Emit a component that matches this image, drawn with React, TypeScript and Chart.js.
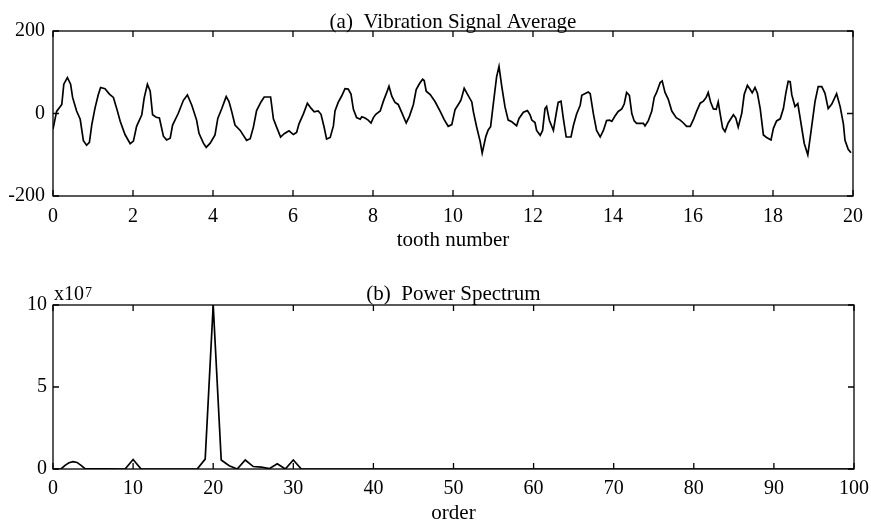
import React, { useEffect, useRef } from "react";
import { Chart, registerables } from "chart.js";

Chart.register(...registerables);

// ---------- (a) Vibration signal average ----------
const toothNumber = [
  0, 0.09, 0.22, 0.27, 0.36, 0.44, 0.49, 0.59, 0.68, 0.76, 0.84, 0.91, 0.97,
  1.05, 1.13, 1.19, 1.3, 1.41, 1.51, 1.59, 1.68, 1.8, 1.93, 2.01, 2.09, 2.22,
  2.28, 2.36, 2.43, 2.49, 2.58, 2.66, 2.76, 2.84, 2.93, 2.99, 3.13, 3.26, 3.36,
  3.47, 3.59, 3.65, 3.76, 3.83, 3.93, 4.05, 4.12, 4.22, 4.33, 4.4, 4.47, 4.55,
  4.68, 4.76, 4.84, 4.93, 5.01, 5.09, 5.2, 5.28, 5.44, 5.51, 5.59, 5.69, 5.78,
  5.9, 6.01, 6.09, 6.15, 6.26, 6.36, 6.45, 6.53, 6.63, 6.7, 6.78, 6.84, 6.93,
  7.01, 7.05, 7.13, 7.22, 7.3, 7.38, 7.45, 7.51, 7.59, 7.68, 7.72, 7.8, 7.88,
  7.95, 8.01, 8.07, 8.18, 8.26, 8.34, 8.4, 8.47, 8.55, 8.63, 8.72, 8.83, 8.91,
  9.01, 9.08, 9.16, 9.24, 9.28, 9.33, 9.43, 9.55, 9.68, 9.78, 9.88, 9.97,
  10.05, 10.16, 10.2, 10.28, 10.37, 10.47, 10.51, 10.59, 10.68, 10.73, 10.82,
  10.88, 10.94, 11.01, 11.09, 11.15, 11.22, 11.3, 11.38, 11.47, 11.59, 11.65,
  11.76, 11.86, 11.93, 11.97, 12.05, 12.09, 12.18, 12.24, 12.3, 12.34, 12.41,
  12.51, 12.58, 12.63, 12.7, 12.76, 12.83, 12.95, 13.01, 13.09, 13.18, 13.22,
  13.38, 13.43, 13.51, 13.59, 13.68, 13.76, 13.84, 13.91, 13.97, 14.05, 14.13,
  14.22, 14.28, 14.34, 14.41, 14.47, 14.53, 14.59, 14.76, 14.8, 14.88, 14.97,
  15.03, 15.09, 15.18, 15.23, 15.3, 15.38, 15.47, 15.58, 15.68, 15.76, 15.84,
  15.93, 16.01, 16.09, 16.18, 16.26, 16.33, 16.38, 16.44, 16.51, 16.58, 16.63,
  16.69, 16.74, 16.8, 16.88, 17.01, 17.07, 17.13, 17.22, 17.28, 17.36, 17.43,
  17.48, 17.55, 17.61, 17.68, 17.76, 17.84, 17.95, 18.01, 18.09, 18.18, 18.26,
  18.32, 18.38, 18.43, 18.47, 18.55, 18.62, 18.68, 18.78, 18.87, 18.95, 19.05,
  19.13, 19.22, 19.3, 19.38, 19.47, 19.59, 19.68, 19.76, 19.8, 19.88, 19.95,
];
const vibration = [
  -38, 5, 22, 71, 87, 71, 39, 6, -14, -66, -77, -70, -27,
  13, 45, 63, 60, 47, 39, 13, -19, -51, -73, -67, -31, -3,
  38, 71, 54, -3, -9, -11, -55, -64, -60, -28, 0, 32, 45,
  20, -16, -48, -72, -82, -72, -52, -12, 12, 41, 29, 4, -28,
  -41, -53, -65, -61, -33, 7, 28, 40, 40, -13, -33, -57, -49,
  -42, -51, -46, -25, -1, 25, 13, 4, 6, -2, -34, -62, -58,
  -30, 6, 27, 43, 60, 59, 47, 10, -10, -14, -8, -11, -16,
  -23, -10, -2, 6, 30, 50, 66, 42, 27, 22, 2, -23, -7,
  22, 58, 72, 83, 80, 54, 46, 29, 5, -15, -31, -27,
  9, 26, 33, 61, 45, 28, 4, -32, -68, -96, -56,
  -40, -32, 25, 89, 114, 65, 16, -16, -20, -30, -12,
  3, 7, -4, -16, -22, -41, -53, -41, 12, 17, -17,
  -41, 0, 27, 30, -13, -57, -57, -29, -1, 20, 44,
  52, 48, -1, -41, -57, -41, -17, -16, -19, -6, 5,
  11, 23, 51, 44, 0, -18, -24, -24, -30, -18, 6,
  39, 51, 75, 79, 51, 35, 6, -10, -16, -23, -31,
  -31, -15, 5, 25, 30, 39, 51, 28, 11, 10, 28,
  -7, -35, -44, -23, -3, -11, -33, 1, 46, 68, 58,
  50, 63, 49, 12, -52, -58, -64, -36, -18, -13, 12,
  49, 78, 77, 45, 17, 24, -12, -72, -100, -44, 29,
  65, 65, 49, 12, 23, 48, 16, -25, -65, -87, -95,
];
const toothTicks = [0, 2, 4, 6, 8, 10, 12, 14, 16, 18, 20];
const vibrationTicks = [-200, 0, 200];

// ---------- (b) Power spectrum (x10^7) ----------
const orders = [
  0, 1, 1.5, 2, 2.5, 3, 3.5, 4, 9, 10, 11, 18, 19, 20, 21, 22, 23, 24, 25, 26,
  27, 28, 29, 30, 31, 100,
];
const power = [
  0, 0, 0.22, 0.38, 0.45, 0.4, 0.22, 0.02, 0, 0.58, 0, 0, 0.6, 10, 0.55, 0.2,
  0, 0.55, 0.15, 0.12, 0.02, 0.32, 0, 0.55, 0, 0,
];
const orderTicks = [0, 10, 20, 30, 40, 50, 60, 70, 80, 90, 100];
const powerTicks = [0, 5, 10];

const FONT = '"Liberation Serif", "Times New Roman", Times, serif';

const framePlugin = {
  id: "frame",
  afterDatasetsDraw(chart: any, _args: any, opts: any) {
    const { ctx, chartArea: a, scales } = chart;
    ctx.save();
    ctx.strokeStyle = "#000";
    ctx.lineWidth = 1.3;
    ctx.strokeRect(a.left, a.top, a.right - a.left, a.bottom - a.top);
    const L = 6;
    ctx.beginPath();
    scales.x.ticks.forEach((t: any) => {
      const px = scales.x.getPixelForValue(t.value);
      ctx.moveTo(px, a.bottom);
      ctx.lineTo(px, a.bottom - L);
      ctx.moveTo(px, a.top);
      ctx.lineTo(px, a.top + L);
    });
    scales.y.ticks.forEach((t: any) => {
      const py = scales.y.getPixelForValue(t.value);
      ctx.moveTo(a.left, py);
      ctx.lineTo(a.left + L, py);
      ctx.moveTo(a.right, py);
      ctx.lineTo(a.right - L, py);
    });
    ctx.stroke();
    ctx.fillStyle = "#000";
    ctx.font = `21px ${FONT}`;
    ctx.textAlign = "center";
    ctx.textBaseline = "alphabetic";
    const cx = (a.left + a.right) / 2;
    ctx.fillText(opts.title, cx, a.top - opts.titleGap);
    ctx.fillText(opts.xlabel, cx, a.bottom + opts.xlabelGap);
    if (opts.exponent) {
      ctx.textAlign = "left";
      ctx.font = `20px ${FONT}`;
      const base = "x10";
      ctx.fillText(base, a.left + 1, a.top - 5);
      const w = ctx.measureText(base).width;
      ctx.font = `14px ${FONT}`;
      ctx.fillText(opts.exponent, a.left + 2 + w, a.top - 8);
    }
    ctx.restore();
  },
};

function makeConfig(
  xs: number[],
  ys: number[],
  xTicks: number[],
  yTicks: number[],
  frame: any,
  padTop: number,
  padRight: number,
  xAxisHeight: number,
  xPad: number,
  yPad: number
): any {
  return {
    type: "line",
    data: {
      datasets: [
        {
          data: xs.map((x, i) => ({ x, y: ys[i] })),
          borderColor: "#000",
          borderWidth: 1.7,
          pointRadius: 0,
          tension: 0,
          fill: false,
        },
      ],
    },
    plugins: [framePlugin],
    options: {
      responsive: false,
      animation: false,
      layout: { padding: { top: padTop, right: padRight, left: 0, bottom: 0 } },
      plugins: {
        legend: { display: false },
        title: { display: false },
        tooltip: { enabled: false },
        frame,
      },
      scales: {
        x: {
          type: "linear",
          min: xTicks[0],
          max: xTicks[xTicks.length - 1],
          grid: { display: false, drawTicks: false },
          border: { display: false },
          afterBuildTicks: (s: any) => {
            s.ticks = xTicks.map((v) => ({ value: v }));
          },
          afterFit: (s: any) => {
            s.height = xAxisHeight;
            s.paddingLeft = 0;
            s.paddingRight = 0;
          },
          ticks: {
            padding: xPad,
            color: "#000",
            maxRotation: 0,
            autoSkip: false,
            font: { family: FONT, size: 20 },
          },
        },
        y: {
          type: "linear",
          min: yTicks[0],
          max: yTicks[yTicks.length - 1],
          grid: { display: false, drawTicks: false },
          border: { display: false },
          afterBuildTicks: (s: any) => {
            s.ticks = yTicks.map((v) => ({ value: v }));
          },
          afterFit: (s: any) => {
            s.width = 53;
            s.paddingTop = 0;
            s.paddingBottom = 0;
          },
          ticks: {
            padding: yPad,
            color: "#000",
            autoSkip: false,
            font: { family: FONT, size: 20 },
          },
        },
      },
    },
  };
}

export default function App() {
  const topRef = useRef<HTMLCanvasElement | null>(null);
  const botRef = useRef<HTMLCanvasElement | null>(null);

  useEffect(() => {
    const top = new Chart(
      topRef.current as HTMLCanvasElement,
      makeConfig(
        toothNumber,
        vibration,
        toothTicks,
        vibrationTicks,
        {
          title: "(a)  Vibration Signal Average",
          xlabel: "tooth number",
          titleGap: 3,
          xlabelGap: 50,
        },
        31,
        18,
        66,
        9,
        8
      )
    );
    const bot = new Chart(
      botRef.current as HTMLCanvasElement,
      makeConfig(
        orders,
        power,
        orderTicks,
        powerTicks,
        {
          title: "(b)  Power Spectrum",
          xlabel: "order",
          titleGap: 5,
          xlabelGap: 50,
          exponent: "7",
        },
        43,
        17,
        58,
        8,
        6
      )
    );
    return () => {
      top.destroy();
      bot.destroy();
    };
  }, []);

  return (
    <div
      style={{
        position: "absolute",
        left: 0,
        top: 0,
        width: 871,
        height: 527,
        background: "#fff",
      }}
    >
      <canvas
        ref={topRef}
        width={871}
        height={262}
        style={{ display: "block", position: "absolute", left: 0, top: 0 }}
      />
      <canvas
        ref={botRef}
        width={871}
        height={265}
        style={{ display: "block", position: "absolute", left: 0, top: 262 }}
      />
    </div>
  );
}
